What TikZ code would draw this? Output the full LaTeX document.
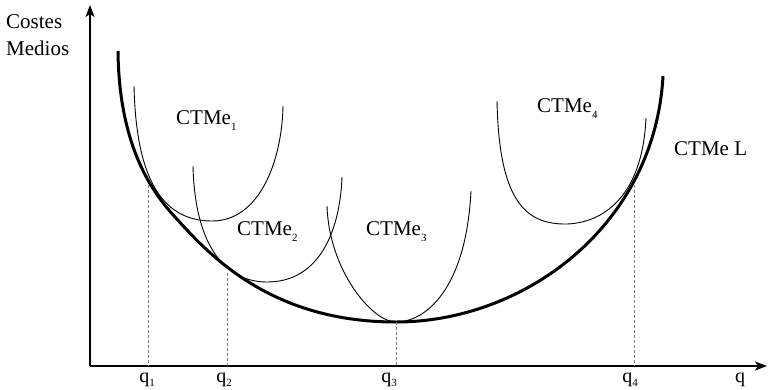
\documentclass[tikz,border=0pt]{standalone}
\usepackage{fontspec}
\setmainfont{Liberation Serif}
\usetikzlibrary{arrows.meta}
\newcommand{\sbsc}[1]{\raisebox{-6pt}{\fontsize{11}{11}\selectfont #1}}
\newcommand{\qsbsc}[1]{\raisebox{-4pt}{\fontsize{11}{11}\selectfont #1}}
\begin{document}
\begin{tikzpicture}[x=1pt,y=-1pt,
  lbl/.style={anchor=base west,inner sep=0pt,font=\fontsize{21}{25}\selectfont},
  qlbl/.style={anchor=base,inner sep=0pt,font=\fontsize{20}{24}\selectfont},
  axis/.style={line width=1.4pt,-{Stealth[length=12pt,width=9pt,inset=3pt]}},
  env/.style={line width=3pt},
  sr/.style={line width=0.9pt},
  guide/.style={gray,dash pattern=on 3pt off 2pt,line width=0.8pt}]
\useasboundingbox (0,0) rectangle (769,389);
% axes
\coordinate (O) at (90,366);
\coordinate (ytop) at (90,5);
\coordinate (xend) at (767,366);
\draw[axis] (O) -- (ytop);
\draw[axis] (O) -- (xend);
% envelope
\draw[env] (118,51) .. controls (119,150) and (155,195) .. (175,217)
  .. controls (208.5,254) and (270,322) .. (396,322)
  .. controls (525,322) and (655,225) .. (663,76);
% short-run curves
\draw[sr] (134,86) .. controls (136,175) and (160,221) .. (212,221)
  .. controls (260,221) and (282,160) .. (283,106);
\draw[sr] (193,166) .. controls (195,250) and (228,282) .. (267,282)
  .. controls (320,282) and (340,230) .. (342,177);
\draw[sr] (327,206) .. controls (329,270) and (372,322) .. (396,322)
  .. controls (425,322) and (466,290) .. (471,191);
\draw[sr] (497,101) .. controls (499,200) and (525,224) .. (565,224)
  .. controls (595,224) and (642,205) .. (646,118);
% guides
\coordinate (t1) at (148,185); \coordinate (b1) at (148,366);
\coordinate (t2) at (227,273); \coordinate (b2) at (227,366);
\coordinate (t3) at (396,322); \coordinate (b3) at (396,366);
\coordinate (t4) at (634,185); \coordinate (b4) at (634,366);
\draw[guide] (t1) -- (b1);
\draw[guide] (t2) -- (b2);
\draw[guide] (t3) -- (b3);
\draw[guide] (t4) -- (b4);
% labels
\node[lbl] (costes) at (6,28) {Costes};
\node[lbl] (medios) at (6,55) {Medios};
\node[lbl] (c1) at (176,124) {CTMe\sbsc{1}};
\node[lbl] (c2) at (237,235) {CTMe\sbsc{2}};
\node[lbl] (c3) at (366,235) {CTMe\sbsc{3}};
\node[lbl] (c4) at (537,112) {CTMe\sbsc{4}};
\node[lbl] (cl) at (674,155) {CTMe L};
\node[qlbl] (q1) at (147,382) {q\qsbsc{1}};
\node[qlbl] (q2) at (224,382) {q\qsbsc{2}};
\node[qlbl] (q3) at (389,382) {q\qsbsc{3}};
\node[qlbl] (q4) at (630,382) {q\qsbsc{4}};
\node[qlbl] (q) at (740,382) {q};
\end{tikzpicture}
\end{document}
